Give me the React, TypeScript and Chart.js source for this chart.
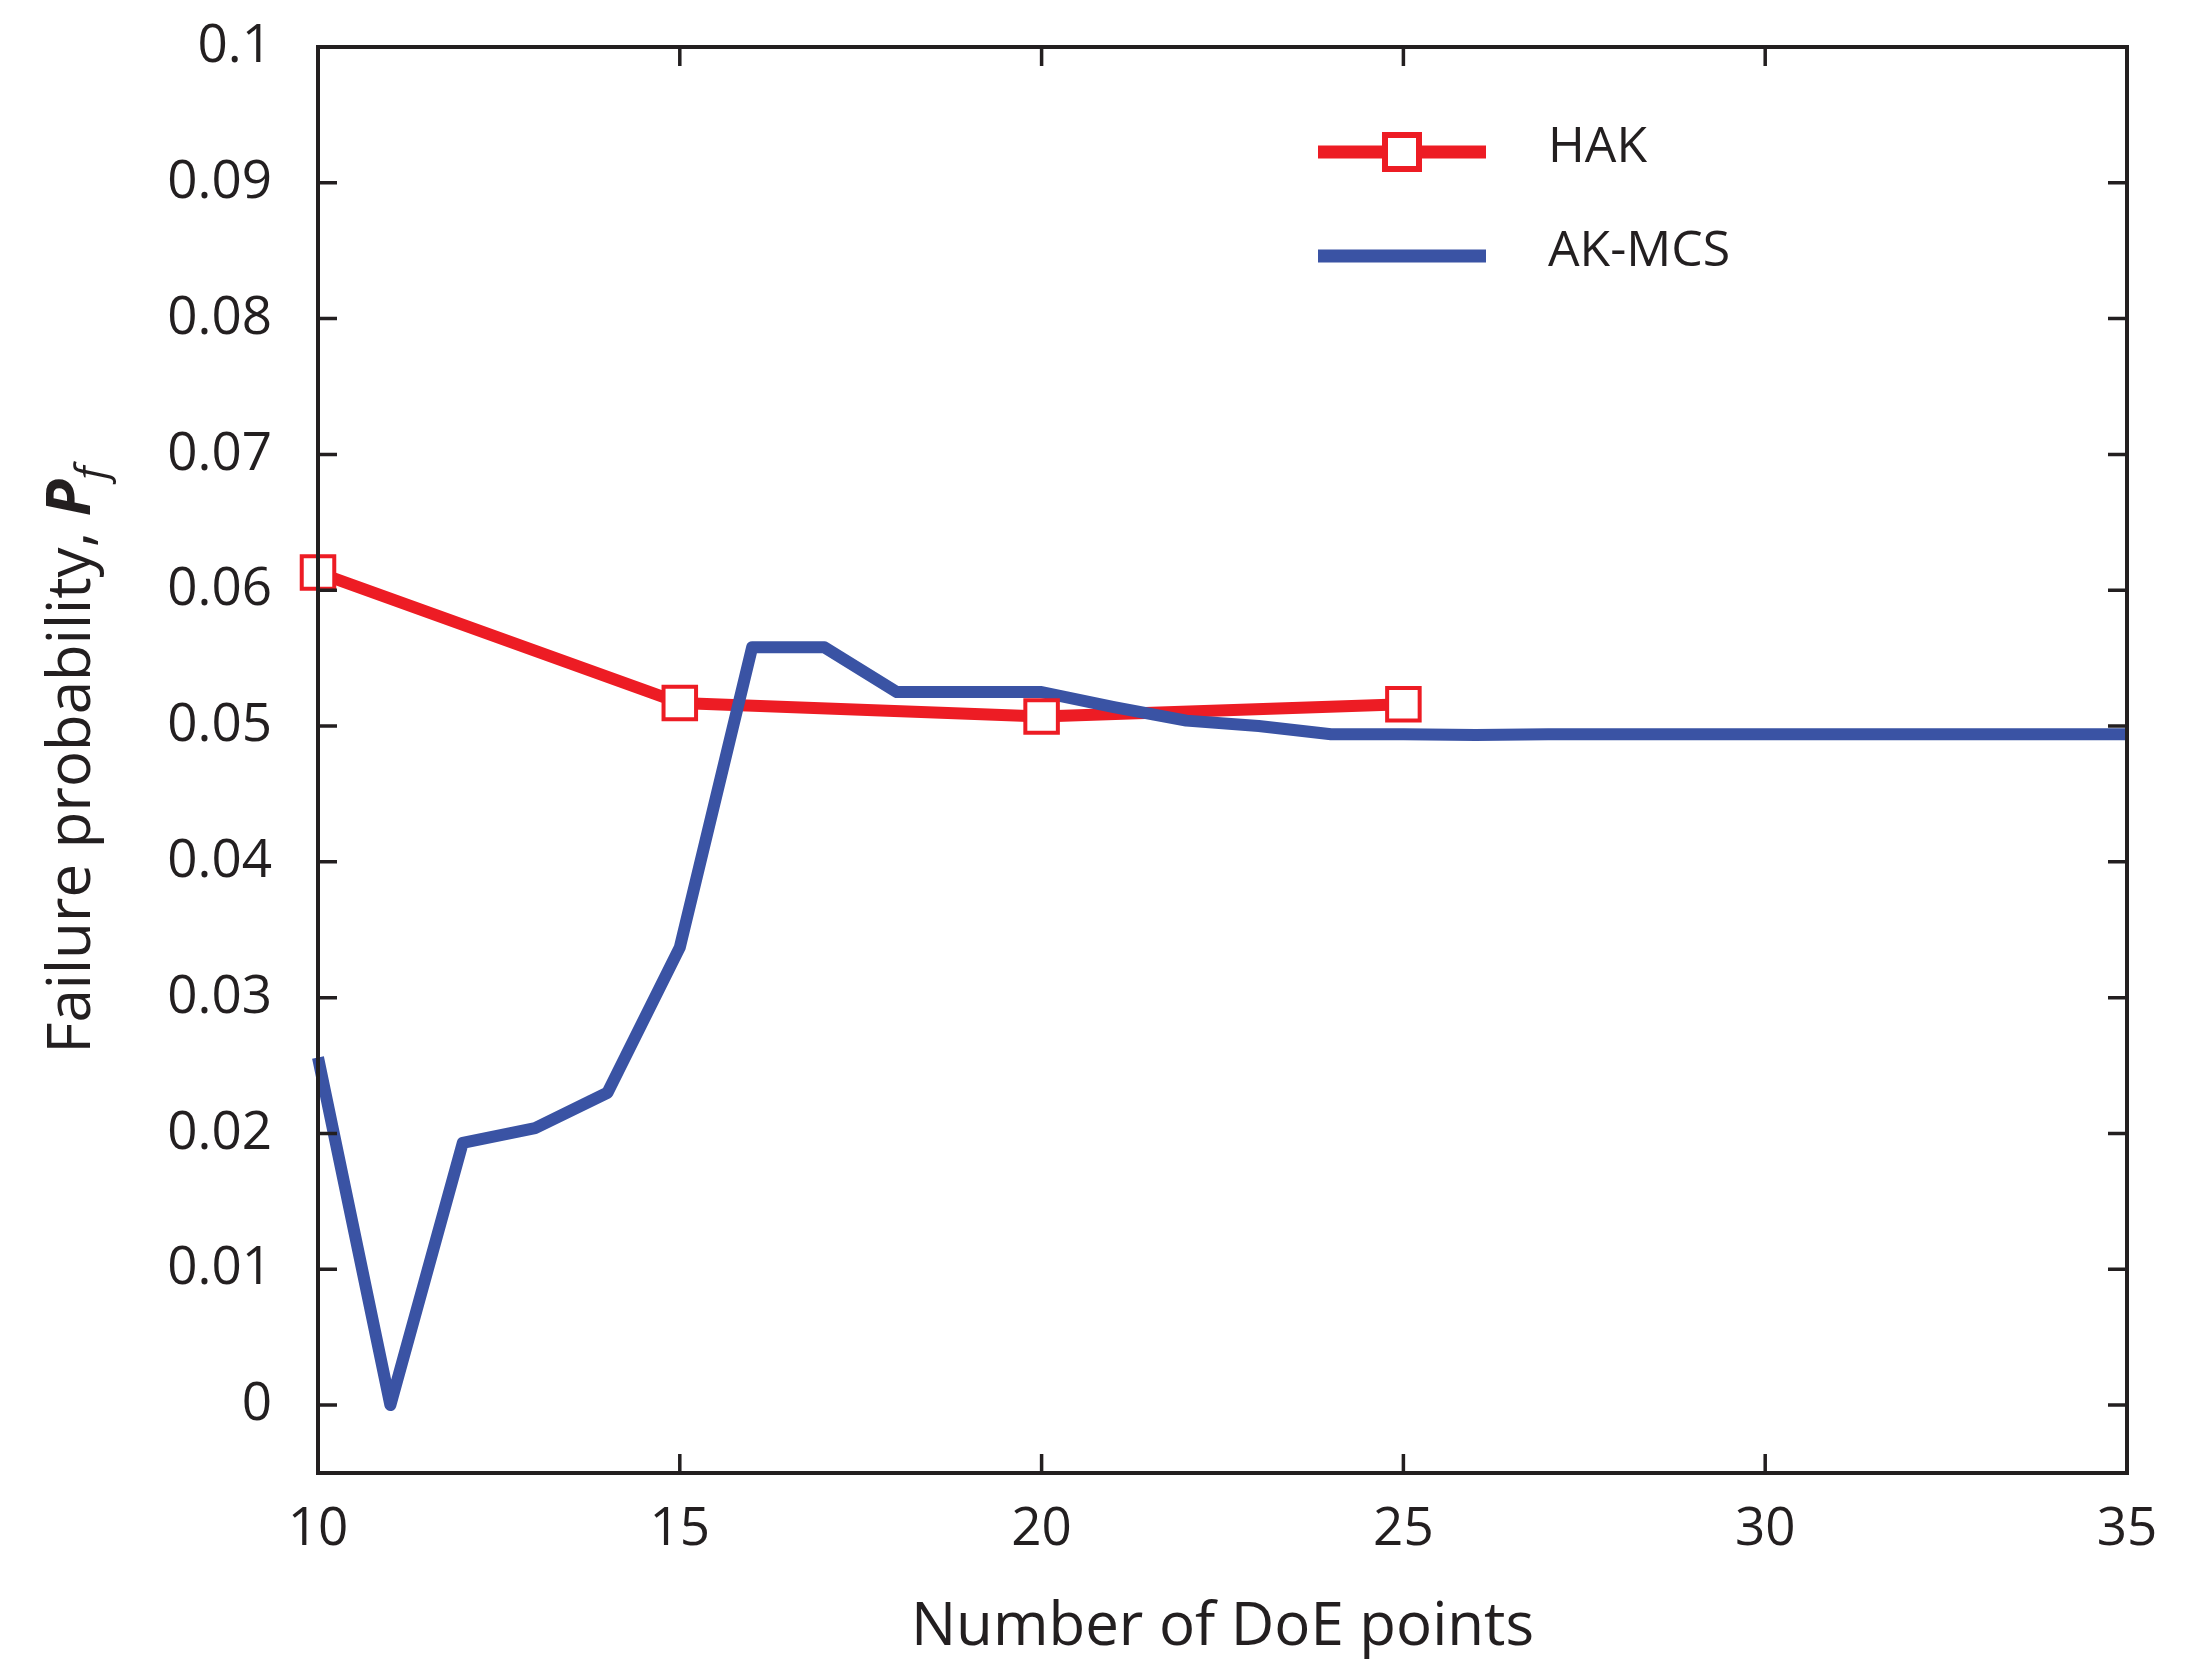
import { Chart, ChartConfiguration, registerables } from "chart.js";
import { useEffect, useRef } from "react";

Chart.register(...registerables);

// DoE sizes and failure probabilities
const akmcsDoe = [10, 11, 12, 13, 14, 15, 16, 17, 18, 19, 20, 21, 22, 23, 24, 25, 26, 27, 28, 29, 30, 31, 32, 33, 34, 35];
const akmcsPf = [0.0256, 0.0, 0.0193, 0.0204, 0.023, 0.0337, 0.0558, 0.0558, 0.0525, 0.0525, 0.0525, 0.0514, 0.0504, 0.05, 0.0494, 0.0494, 0.04935, 0.0494, 0.0494, 0.0494, 0.0494, 0.0494, 0.0494, 0.0494, 0.0494, 0.0494];
const hakDoe = [10, 15, 20, 25];
const hakPf = [0.0613, 0.0517, 0.0507, 0.0516];

const xTickValues = [10, 15, 20, 25, 30, 35];
const yTickValues = [0, 0.01, 0.02, 0.03, 0.04, 0.05, 0.06, 0.07, 0.08, 0.09, 0.1];
const yTickLabels = ["0", "0.01", "0.02", "0.03", "0.04", "0.05", "0.06", "0.07", "0.08", "0.09", "0.1"];
const seriesNames = ["HAK", "AK-MCS"];

const INK = "#231f20";
const RED = "#ed1c24";
const BLUE = "#3a53a4";
const FONT = "'Open Sans'";

// inward ticks on all four sides, box frame, legend and axis titles
const decorations = {
    id: "decorations",
    afterDraw(chart: Chart) {
        const { ctx, chartArea: a, scales } = chart;
        const xs = scales.x;
        const ys = scales.y;
        const tick = 19;
        ctx.save();
        ctx.strokeStyle = INK;
        ctx.lineWidth = 3.5;
        ctx.beginPath();
        xs.ticks.forEach(t => {
            const px = xs.getPixelForValue(t.value);
            ctx.moveTo(px, a.bottom);
            ctx.lineTo(px, a.bottom - tick);
            ctx.moveTo(px, a.top);
            ctx.lineTo(px, a.top + tick);
        });
        ys.ticks.forEach(t => {
            const py = ys.getPixelForValue(t.value);
            ctx.moveTo(a.left, py);
            ctx.lineTo(a.left + tick, py);
            ctx.moveTo(a.right, py);
            ctx.lineTo(a.right - tick, py);
        });
        ctx.stroke();
        ctx.lineWidth = 4;
        ctx.strokeRect(a.left, a.top, a.right - a.left, a.bottom - a.top);

        // legend
        const lx0 = a.left + 1000;
        const lx1 = a.left + 1168;
        const rows = [a.top + 105, a.top + 209];
        const colors = [RED, BLUE];
        rows.forEach((y, i) => {
            ctx.strokeStyle = colors[i];
            ctx.lineWidth = 13;
            ctx.lineCap = "butt";
            ctx.beginPath();
            ctx.moveTo(lx0, y);
            ctx.lineTo(lx1, y);
            ctx.stroke();
            ctx.fillStyle = INK;
            ctx.font = `50px ${FONT}`;
            ctx.textAlign = "left";
            ctx.textBaseline = "middle";
            ctx.fillText(seriesNames[i], a.left + 1230, y - 4);
        });
        const mx = (lx0 + lx1) / 2;
        ctx.fillStyle = "#ffffff";
        ctx.fillRect(mx - 17, rows[0] - 17, 34, 34);
        ctx.strokeStyle = RED;
        ctx.lineWidth = 6;
        ctx.strokeRect(mx - 17, rows[0] - 17, 34, 34);

        // x title
        ctx.fillStyle = INK;
        ctx.font = `60px ${FONT}`;
        ctx.textAlign = "center";
        ctx.textBaseline = "alphabetic";
        ctx.fillText("Number of DoE points", (a.left + a.right) / 2, 1645);

        // y title with bold-italic P and italic subscript f
        const parts = [
            { text: "Failure probability, ", font: `60px ${FONT}`, dy: 0 },
            { text: "P", font: `italic bold 60px ${FONT}`, dy: 0 },
            { text: "f", font: `italic 42px ${FONT}`, dy: 16 },
        ];
        let total = 0;
        parts.forEach(p => { ctx.font = p.font; total += ctx.measureText(p.text).width; });
        ctx.translate(90, (a.top + a.bottom) / 2);
        ctx.rotate(-Math.PI / 2);
        ctx.textAlign = "left";
        let cx = -total / 2;
        parts.forEach(p => {
            ctx.font = p.font;
            ctx.fillText(p.text, cx, p.dy);
            cx += ctx.measureText(p.text).width;
        });
        ctx.restore();
    },
};

export default function App() {
    const chartRef = useRef<HTMLCanvasElement | null>(null);
    useEffect(() => {
        document.body.style.margin = "0";
        document.body.style.overflow = "hidden";
        const context = chartRef.current?.getContext("2d");
        if (!context) return;

        const config = {
            type: "line",
            data: {
                datasets: [
                    {
                        // HAK markers, drawn on top
                        label: "HAK markers",
                        data: hakDoe.map((x, i) => ({ x, y: hakPf[i] })),
                        showLine: false,
                        pointStyle: "rect",
                        pointRadius: 23,
                        pointBorderWidth: 4,
                        pointBackgroundColor: "#ffffff",
                        pointBorderColor: RED,
                        clip: false,
                        order: 0,
                    },
                    {
                        label: seriesNames[1],
                        data: akmcsDoe.map((x, i) => ({ x, y: akmcsPf[i] })),
                        borderColor: BLUE,
                        borderWidth: 12,
                        borderJoinStyle: "round",
                        pointRadius: 0,
                        tension: 0,
                        clip: false,
                        order: 1,
                    },
                    {
                        label: seriesNames[0],
                        data: hakDoe.map((x, i) => ({ x, y: hakPf[i] })),
                        borderColor: RED,
                        borderWidth: 12,
                        borderJoinStyle: "round",
                        pointRadius: 0,
                        tension: 0,
                        clip: false,
                        order: 2,
                    },
                ],
            },
            options: {
                animation: false,
                responsive: true,
                maintainAspectRatio: false,
                devicePixelRatio: 1,
                layout: { padding: { top: 47, right: 59, left: 0, bottom: 0 } },
                plugins: {
                    legend: { display: false },
                    tooltip: { enabled: false },
                },
                scales: {
                    x: {
                        type: "linear",
                        min: 10,
                        max: 35,
                        afterBuildTicks: (s: any) => { s.ticks = xTickValues.map(value => ({ value })); },
                        afterFit: (s: any) => { s.height = 206; },
                        grid: { display: false },
                        border: { display: false },
                        ticks: {
                            color: INK,
                            padding: 17,
                            font: { family: FONT, size: 53 },
                            maxRotation: 0,
                            callback: (v: number) => String(v),
                        },
                    },
                    y: {
                        type: "linear",
                        min: -0.005,
                        max: 0.1,
                        afterBuildTicks: (s: any) => { s.ticks = yTickValues.map(value => ({ value })); },
                        afterFit: (s: any) => { s.width = 318; },
                        grid: { display: false },
                        border: { display: false },
                        ticks: {
                            color: INK,
                            padding: 38,
                            font: { family: FONT, size: 53, lineHeight: 0.3 },
                            callback: (_v: number, i: number) => yTickLabels[i],
                        },
                    },
                },
            },
            plugins: [decorations],
        };

        const chartInstance = new Chart(context, config as ChartConfiguration);
        return () => {
            chartInstance.destroy();
        };
    }, []);

    return (
        <div style={{ width: "2186px", height: "1679px", background: "#ffffff" }}>
            <canvas ref={chartRef} />
        </div>
    );
}
